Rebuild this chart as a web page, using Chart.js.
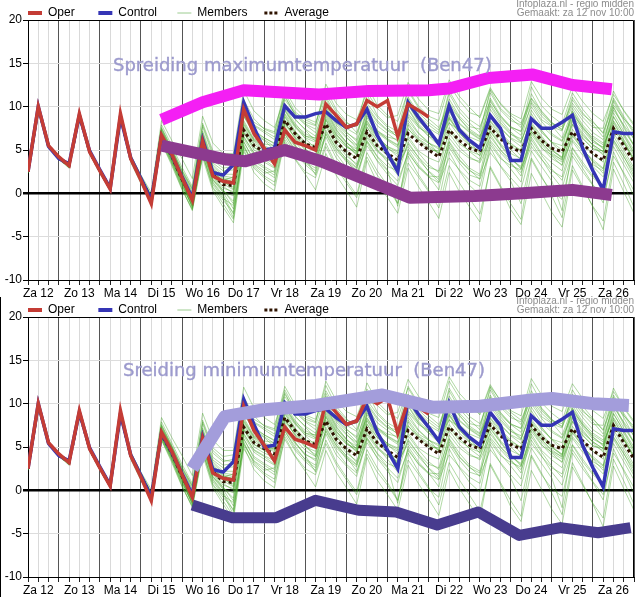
<!DOCTYPE html>
<html><head><meta charset="utf-8">
<script src="https://cdn.jsdelivr.net/npm/chart.js@4/dist/chart.umd.min.js"></script>
<style>
html,body{margin:0;padding:0;background:#fff;}
#wrap{position:relative;width:636px;height:597px;overflow:hidden;background:#fff;}
canvas{position:absolute;left:0;}
#c1{top:0}
#c2{top:297px}
.note{position:absolute;right:2px;font:10px "Liberation Sans",Arial,sans-serif;color:#8c8c8c;line-height:10px;white-space:nowrap}
.spread{position:absolute;font:18px "DejaVu Sans",sans-serif;color:#9c9acd;line-height:18px;white-space:pre;-webkit-text-stroke:0.4px #9c9acd}
#frame{position:absolute;left:0;top:297px;width:1px;height:300px;background:#000}
</style></head>
<body><div id="wrap">
<canvas id="c1" width="636" height="297"></canvas>
<canvas id="c2" width="636" height="300"></canvas>
<div id="frame"></div>
<div class="note" style="top:-1px">Infoplaza.nl - regio midden</div>
<div class="note" style="top:8px">Gemaakt: za 12 nov 10:00</div>
<div class="note" style="top:296px">Infoplaza.nl - regio midden</div>
<div class="note" style="top:305px">Gemaakt: za 12 nov 10:00</div>
<div class="spread" style="left:113px;top:56px">Spreiding maximumtemperatuur  (Ben47)</div>
<div class="spread" style="left:123px;top:361px">Sreiding minimumtemperatuur  (Ben47)</div>
</div>
<script>
// ---- categories / ticks ----
const dayLabels = ['Za 12','Zo 13','Ma 14','Di 15','Wo 16','Do 17','Vr 18','Za 19','Zo 20','Ma 21','Di 22','Wo 23','Do 24','Vr 25','Za 26'];
const hours = [6,12,18,24,30,36,42,48,54,60,66,72,78,84,90,96,102,108,114,120,126,132,138,144,150,156,162,168,174,180,186,192,198,204,210,216,222,228,234,240,246,252,258,264,270,276,282,288,294,300,306,312,318,324,330,336,342,348,354,360];
const yTicks = [-10,-5,0,5,10,15,20];

// ---- series ----
const oper = [2.5,10.0,5.5,4.2, 3.2,9.2,4.8,2.6, 0.5,9.2,4.0,1.5, -1.2,6.7,4.5,1.8, -0.8,6.0,2.0,1.4, 1.2,9.7,6.9,5.2, 3.4,7.3,5.9,5.5, 5.0,10.3,9.0,7.6, 8.0,10.7,10.0,10.7, 6.6,10.3,9.6,8.8];
const control = [2.5,10.0,5.4,4.0, 3.4,9.0,4.9,2.7, 0.6,8.8,4.1,1.7, -0.8,6.6,4.4,1.9, -0.5,6.2,2.4,2.1, 3.3,10.5,7.6,5.0, 5.2,10.1,8.8,8.8, 9.2,9.4,8.4,7.6, 8.0,9.7,6.7,4.6, 2.5,10.5,8.8,7.3, 5.7,10.1,7.3,6.1, 5.2,9.0,7.5,3.8, 3.8,8.6,7.5,7.5, 8.2,9.0,5.2,2.6, 0.4,7.1,6.9,6.9];
const average = [2.5,9.9,5.5,4.1, 3.2,9.0,4.8,2.6, 0.6,8.9,4.0,1.6, -0.6,6.5,4.3,1.6, -0.6,5.8,2.2,1.0, 0.9,7.3,5.5,4.8, 4.2,8.4,6.9,5.7, 5.3,8.0,5.9,4.8, 4.0,7.1,5.5,4.6, 3.8,6.9,5.9,5.0, 4.2,7.3,6.1,5.2, 4.8,7.6,6.3,5.3, 4.8,7.5,6.1,5.2, 4.8,7.1,5.7,4.6, 3.8,7.5,5.5,3.6];

const member01 = [2.4,9.8,5.6,4.3, 3.4,9.5,5.0,2.8, 0.9,8.7,4.2,1.9, -0.3,7.4,5.0,2.5, 0.4,7.2,3.8,2.9, 3.1,9.6,7.9,7.2, 6.5,10.8,9.2,8.0, 7.4,11.2,8.8,7.1, 6.0,9.3,7.2,6.5, 6.2,9.0,7.6,6.9, 6.0,8.1,7.3,6.2, 5.1,9.7,8.0,6.8, 6.3,10.4,8.5,7.7, 7.2,10.8,9.1,8.2, 7.0,10.2,8.6,7.4];
const member02 = [2.6,10.1,5.4,4.0, 3.0,8.8,4.6,2.3, 0.3,8.6,3.6,1.1, -1.0,5.8,3.2,0.4, -1.9,4.6,0.7,-0.8, -2.2,5.1,2.4,1.1, 0.3,6.2,4.0,2.5, 1.8,5.4,3.0,1.2, -0.5,4.2,2.1,0.6, -1.2,3.5,1.9,0.2, -0.8,4.8,2.6,0.9, -0.2,5.3,3.1,1.4, -1.2,4.1,2.0,-0.3, -2.8,3.2,0.8,-1.6, -4.2,2.8,0.2,-2.3];
const member03 = [2.5,9.9,5.7,4.2, 3.3,9.3,4.9,2.7, 0.7,9.0,4.3,1.8, -0.5,6.9,4.6,1.3, -1.2,5.5,2.0,0.6, 0.2,8.4,6.3,5.7, 5.5,9.9,8.1,6.6, 6.1,9.6,7.4,5.9, 4.8,8.7,7.0,6.1, 5.3,10.2,8.3,7.5, 6.8,11.5,9.4,8.1, 7.0,11.9,9.8,8.7, 7.6,10.6,8.9,7.8, 6.4,9.5,7.7,6.2, 5.1,8.8,6.9,5.0];
const member04 = [2.3,9.7,5.3,3.9, 2.9,9.1,4.5,2.4, 0.4,9.1,3.8,1.3, -0.9,6.2,3.9,1.0, -1.5,5.0,1.2,-0.4, -2.8,6.0,3.7,2.9, 2.1,7.3,5.5,4.2, 3.4,6.5,4.1,2.8, 1.6,5.9,3.7,2.2, 0.9,4.8,3.0,1.9, 1.2,4.1,2.7,1.5, 0.8,5.6,4.0,3.2, 2.7,6.8,5.2,4.4, 3.6,6.2,4.8,3.1, 1.9,5.4,3.3,1.2];
const member05 = [2.6,10.0,5.5,4.1, 3.1,9.0,4.8,2.5, 0.5,8.8,4.1,1.7, -0.6,6.6,4.4,1.9, -0.2,6.5,2.9,1.8, 1.6,8.9,6.8,6.1, 5.0,9.2,7.6,6.4, 5.9,10.3,8.2,7.0, 6.2,11.4,9.0,7.8, 7.1,12.0,10.1,8.9, 8.4,12.6,10.7,9.3, 8.9,12.2,10.3,9.0, 8.1,11.0,9.5,8.2, 7.3,10.1,8.4,7.0, 6.2,9.6,7.9,6.3];
const member06 = [2.5,10.2,5.6,4.2, 3.2,9.4,4.9,2.6, 0.6,8.5,3.9,1.5, -0.4,6.0,3.8,1.2, -1.0,4.9,1.5,0.1, -1.8,5.6,3.1,2.0, 1.3,5.9,3.9,2.2, 0.4,4.6,2.1,0.3, -1.6,3.8,1.2,-0.5, -2.3,2.9,0.8,-1.0, -2.9,2.4,0.2,-1.6, -3.3,3.1,0.9,-1.2, -3.0,3.9,1.8,0.2, -0.7,4.3,2.5,0.9, -1.1,4.8,2.2,-0.4];
const member07 = [2.5,9.9,5.4,4.0, 3.3,9.1,4.8,2.7, 0.8,9.2,4.4,2.0, -0.2,7.9,5.5,3.0, 0.8,8.1,4.9,3.9, 4.1,10.8,8.6,7.4, 6.9,11.6,9.4,8.5, 7.9,12.1,9.7,8.3, 7.0,10.4,8.8,7.6, 6.4,9.2,7.8,6.6, 5.5,8.7,7.1,5.9, 4.6,8.0,6.4,5.0, 3.9,7.1,5.6,4.3, 3.2,6.6,5.1,3.7, 2.8,7.7,5.9,4.1];
const member08 = [2.4,10.0,5.5,4.1, 3.1,8.9,4.7,2.5, 0.5,8.9,4.0,1.4, -0.8,6.3,4.0,1.4, -1.7,5.2,1.9,0.3, -0.9,7.0,5.0,4.3, 3.8,8.0,6.4,5.0, 4.5,7.3,5.2,3.6, 2.7,6.4,4.8,3.9, 3.4,8.1,6.5,5.8, 5.1,9.9,8.0,7.0, 6.2,9.1,7.5,6.3, 5.4,8.2,6.6,5.1, 4.1,7.9,6.3,5.2, 4.6,8.9,6.8,4.7];
const member09 = [2.6,9.8,5.5,4.2, 3.2,9.0,4.8,2.6, 0.6,8.9,4.0,1.6, -0.7,5.9,3.4,0.5, -2.0,4.1,0.3,-1.6, -3.4,4.8,2.9,1.8, 0.9,6.9,4.8,3.6, 2.9,8.6,6.7,5.5, 4.4,8.0,6.1,4.9, 3.0,5.7,4.2,2.5, 1.3,5.3,3.5,2.1, 1.7,6.8,5.0,3.9, 3.1,7.9,5.9,4.5, 3.9,8.4,6.6,5.6, 4.8,9.3,7.2,5.6];
const member10 = [2.5,10.0,5.6,4.1, 3.2,9.2,4.8,2.6, 0.6,9.0,4.2,1.8, -0.5,7.1,4.9,2.2, 0.1,6.7,3.3,2.2, 2.2,9.1,7.3,6.4, 5.8,10.2,8.6,7.3, 6.0,9.0,6.9,5.4, 4.6,7.6,6.1,5.2, 4.5,7.4,6.3,5.5, 4.7,8.6,6.9,5.8, 5.3,10.8,8.7,7.6, 7.2,12.3,10.1,8.9, 8.0,11.6,9.7,8.3, 6.9,11.0,8.9,7.1];
const member11 = [2.4,9.9,5.4,4.0, 3.0,9.0,4.7,2.4, 0.4,8.7,3.9,1.5, -0.8,6.4,4.1,1.5, -0.9,5.9,2.3,1.2, 1.1,6.3,4.4,3.6, 2.9,7.0,5.4,4.1, 3.6,8.4,6.5,5.3, 4.9,9.6,7.8,6.9, 6.0,10.3,8.4,7.1, 5.9,8.8,7.0,5.6, 4.3,7.1,5.5,4.0, 2.9,6.2,4.4,2.8, 1.5,5.3,3.6,2.0, 0.9,6.1,4.2,2.4];
const member12 = [2.5,10.0,5.5,4.1, 3.2,9.1,4.8,2.6, 0.6,8.9,4.0,1.6, -0.6,6.5,4.3,1.6, -0.4,6.1,2.6,1.4, 0.5,7.7,5.8,5.1, 4.6,9.1,7.2,5.9, 4.9,7.7,5.5,3.9, 2.2,5.5,3.8,2.6, 1.4,4.6,3.1,2.0, 1.9,6.4,4.9,4.0, 3.7,8.3,6.6,5.6, 5.0,8.7,7.0,5.9, 5.5,9.2,7.6,6.4, 5.6,8.1,6.2,4.4];
const member13 = [2.6,10.1,5.6,4.2, 3.3,9.2,4.9,2.7, 0.7,9.1,4.2,1.8, -0.4,7.6,5.2,2.7, 0.6,7.7,4.3,3.3, 3.6,10.2,8.2,7.5, 7.1,12.0,9.9,8.7, 8.2,11.5,9.4,8.1, 7.7,12.4,10.2,9.0, 8.3,11.8,9.9,8.6, 7.6,10.5,8.7,7.2, 6.5,11.0,9.0,7.7, 7.1,10.0,8.3,6.9, 6.1,9.0,7.3,5.9, 5.3,8.4,6.6,4.6];
const member14 = [2.4,9.8,5.4,4.0, 3.1,8.9,4.6,2.4, 0.4,8.8,3.9,1.4, -0.9,6.1,3.7,0.9, -1.4,5.4,1.6,0.2, -0.3,7.9,6.0,5.2, 4.4,8.8,7.0,5.5, 5.0,8.5,6.4,4.6, 3.2,6.9,5.0,3.6, 2.1,5.9,4.2,3.0, 2.6,7.3,5.7,4.9, 4.4,7.2,5.6,4.2, 2.8,5.8,4.0,2.1, 0.6,4.7,2.9,1.0, -0.5,4.3,2.4,0.3];
const member15 = [2.5,10.0,5.5,4.1, 3.2,9.0,4.8,2.6, 0.6,8.9,4.0,1.6, -0.3,7.3,4.8,2.0, -0.8,6.3,2.5,1.5, 1.9,7.0,5.3,4.6, 4.0,8.1,6.5,5.4, 5.7,9.7,7.6,6.4, 5.5,8.4,6.6,5.3, 4.2,7.5,6.0,5.0, 4.9,9.4,7.6,6.5, 6.0,10.1,8.2,6.9, 5.9,9.2,7.3,5.8, 4.6,8.0,6.4,5.1, 4.9,9.9,7.6,5.4];
const member16 = [2.5,9.9,5.5,4.1, 3.2,9.0,4.8,2.6, 0.6,8.8,4.0,1.6, -0.5,6.8,4.5,1.7, -0.5,6.4,2.7,1.6, 1.4,7.5,5.6,4.9, 4.8,8.5,6.8,5.2, 3.9,6.8,4.6,3.0, 2.0,6.1,4.3,3.1, 2.6,6.6,4.9,4.1, 3.6,6.9,5.3,4.2, 3.5,6.1,4.7,3.4, 2.4,5.4,3.9,2.6, 1.9,6.0,4.4,3.3, 2.6,7.0,5.0,2.9];
const member17 = [2.5,10.0,5.5,4.1, 3.1,9.1,4.7,2.5, 0.5,8.9,3.9,1.5, -0.7,6.2,3.6,0.6, -1.8,4.4,0.6,-1.2, -3.0,5.3,3.3,2.3, 2.6,7.8,5.6,4.0, 2.1,5.8,3.3,1.5, -0.2,4.7,2.6,0.9, -1.1,4.3,2.2,0.4, -1.7,3.2,1.2,-0.6, -2.4,2.9,0.7,-1.9, -3.6,2.3,0.1,-2.2, -3.9,2.7,0.6,-1.5, -3.2,3.6,1.1,-1.6];
const member18 = [2.5,10.0,5.6,4.2, 3.3,9.3,5.0,2.8, 0.8,9.1,4.4,2.1, 0.1,8.4,6.1,4.0, 1.7,8.9,5.8,4.6, 4.6,11.9,9.5,8.4, 7.6,11.1,9.2,8.2, 7.8,12.6,10.4,9.1, 8.5,11.7,9.8,8.7, 9.0,12.8,10.9,9.6, 9.2,13.1,11.2,9.9, 8.7,12.0,10.4,9.2, 8.6,12.9,11.0,9.7, 9.1,12.3,10.6,9.2, 8.3,11.4,9.6,8.0];
const member19 = [2.5,10.0,5.5,4.2, 3.2,9.1,4.9,2.7, 0.6,9.0,4.1,1.7, -0.4,7.0,4.7,1.9, -0.6,6.0,2.4,1.3, 0.7,8.9,7.0,6.2, 5.4,9.6,7.8,6.3, 5.2,8.1,6.2,4.9, 4.1,8.9,7.1,6.3, 5.6,9.8,8.0,6.9, 5.8,9.0,7.4,6.1, 5.0,8.4,6.9,5.6, 4.3,8.0,6.4,5.0, 4.0,9.4,7.5,6.1, 5.3,10.6,8.4,6.2];
const member20 = [2.4,9.9,5.5,4.1, 3.1,9.0,4.8,2.6, 0.5,8.8,4.0,1.5, -0.7,6.3,4.1,1.3, -1.3,5.3,1.6,0.4, -1.2,6.6,4.6,3.9, 3.0,7.6,5.9,4.6, 3.9,9.2,7.1,5.8, 5.1,8.3,6.5,5.4, 4.7,8.8,7.0,5.9, 4.5,7.6,6.0,4.8, 3.9,6.5,5.0,3.6, 2.0,7.1,5.3,4.0, 3.3,7.4,5.8,4.5, 3.6,8.3,6.1,3.8];
const member21 = [2.6,10.0,5.6,4.2, 3.3,9.3,4.9,2.8, 0.7,9.0,4.2,1.9, -0.3,7.2,5.0,2.4, 0.2,7.0,3.5,2.6, 2.7,8.0,6.2,5.5, 4.9,9.5,7.7,6.6, 6.4,10.9,8.6,7.5, 6.8,10.1,8.4,7.3, 6.9,11.1,9.3,8.2, 7.3,10.2,8.6,7.4, 6.6,9.0,7.6,6.4, 5.8,9.6,7.8,6.7, 6.0,8.6,7.0,5.5, 4.4,7.3,5.8,3.9];
const member22 = [2.5,9.8,5.4,4.0, 3.0,8.9,4.7,2.5, 0.5,8.9,3.9,1.5, -0.8,6.0,3.8,1.1, -1.6,4.8,1.3,-0.2, -2.4,5.9,3.9,3.1, 2.4,6.8,5.1,3.5, 2.6,6.9,4.9,3.8, 2.9,7.7,5.6,4.4, 3.6,6.3,4.7,3.3, 2.4,6.0,4.3,2.9, 2.2,7.6,5.7,4.6, 4.0,7.3,5.8,4.7, 3.8,7.0,5.2,3.6, 2.3,6.2,4.3,2.0];
const member23 = [2.5,10.1,5.6,4.1, 3.2,9.2,4.8,2.6, 0.6,9.0,4.1,1.6, -0.5,6.6,4.4,1.8, -0.1,6.9,3.1,2.0, 1.8,9.9,7.8,7.0, 6.2,11.3,9.0,7.9, 7.0,10.0,8.1,6.8, 5.6,9.9,8.2,7.2, 6.6,10.9,9.0,7.9, 7.0,11.8,9.8,8.5, 7.7,10.6,8.9,7.6, 6.7,11.5,9.4,8.1, 7.4,11.1,9.3,7.9, 6.5,10.8,8.7,6.9];
const member24 = [2.4,9.9,5.5,4.0, 3.1,9.1,4.7,2.5, 0.5,8.7,3.9,1.4, -0.9,5.8,3.5,0.8, -1.4,4.4,1.0,-0.6, -1.4,5.4,3.4,2.6, 1.8,6.5,4.6,3.3, 2.3,7.1,5.2,4.0, 3.0,6.0,4.2,2.7, -1.5,5.1,3.3,2.0, 0.4,5.9,3.9,2.7, 1.6,4.7,3.2,1.8, 0.5,4.9,3.1,1.4, -2.0,5.2,3.3,1.8, 0.8,5.9,3.8,1.7];
const member25 = [2.5,10.0,5.5,4.1, 3.2,9.0,4.8,2.6, 0.6,8.9,4.0,1.7, -0.6,6.7,4.5,1.8, -0.7,6.0,2.4,1.1, 0.4,7.2,5.3,4.6, 3.9,8.9,7.1,5.8, 4.8,7.9,5.8,4.3, 3.4,6.6,5.0,4.0, 3.1,7.9,6.2,5.3, 4.6,8.2,6.6,5.5, 4.9,8.8,7.0,5.8, 4.9,7.7,6.2,4.9, 4.2,8.5,6.8,5.6, 4.8,7.8,5.9,3.7];
const member26 = [2.6,10.0,5.5,4.2, 3.3,9.2,4.9,2.7, 0.7,9.0,4.2,1.8, -0.4,7.5,5.1,2.6, 0.5,7.9,4.6,3.5, 3.3,9.0,7.1,6.4, 5.7,10.4,8.5,7.4, 6.6,9.4,7.3,5.9, 4.7,8.1,6.4,5.4, 4.9,9.7,7.8,6.6, 6.1,10.9,8.9,7.7, 7.4,11.6,9.6,8.4, 7.9,10.9,9.2,8.0, 7.7,10.4,8.8,7.6, 7.5,11.8,9.5,7.8];
const member27 = [2.5,9.9,5.5,4.1, 3.2,9.0,4.8,2.6, 0.6,8.8,4.0,1.5, -0.7,6.2,4.0,1.3, -1.1,5.6,2.0,0.8, 0.0,6.5,4.7,4.0, 3.4,8.3,6.3,5.0, 4.1,8.8,6.8,5.6, 4.5,7.1,5.5,4.3, 3.2,5.4,3.9,2.6, 1.6,5.6,3.8,2.6, 2.0,5.9,4.2,2.8, 1.3,6.5,4.6,3.5, 2.6,6.8,5.0,3.9, 2.9,6.6,4.6,2.6];
const member28 = [2.5,10.0,5.6,4.1, 3.2,9.1,4.8,2.6, 0.6,9.0,4.1,1.7, -0.5,6.9,4.6,2.0, -0.3,6.2,2.8,1.7, 1.3,8.2,6.1,5.4, 4.7,9.7,7.9,6.9, 6.3,9.9,7.9,6.5, 5.2,9.0,7.3,6.2, 5.5,8.4,6.9,5.8, 5.3,10.0,8.1,7.1, 6.3,10.3,8.5,7.1, 6.0,8.8,7.2,5.9, 5.0,9.8,7.9,6.6, 5.8,10.0,7.8,5.5];
const members = [member01,member02,member03,member04,member05,member06,member07,member08,member09,member10,member11,member12,member13,member14,member15,member16,member17,member18,member19,member20,member21,member22,member23,member24,member25,member26,member27,member28];

// ---- hand-drawn spread lines (Ben47) ----
const maxUpperHours = [84,108,132,176,205,240,252,275,301,324,347];
const maxUpperValues = [8.5,10.5,11.9,11.4,11.8,11.9,12.1,13.3,13.7,12.5,12.0];
const maxLowerHours = [84,108,122,133,156,176,229,267,295,324,347];
const maxLowerValues = [5.5,4.5,3.9,3.7,5.0,3.8,-0.5,-0.3,0.0,0.4,-0.2];
const minUpperHours = [102,121,144,174,213,242,270,299,312,336,357];
const minUpperValues = [2.5,8.5,9.3,9.8,11.0,9.6,9.7,10.4,10.6,10.0,9.8];
const minLowerHours = [102,125,151,174,199,221,245,269,293,317,339,358];
const minLowerValues = [-1.7,-3.15,-3.15,-1.15,-2.3,-2.5,-4.0,-2.5,-5.2,-4.3,-4.9,-4.3];

const FONT = '"Liberation Sans", Arial, sans-serif';
Chart.defaults.font.family = FONT;
Chart.defaults.font.size = 12;
Chart.defaults.color = '#000';

const COL = { oper:'#c43c35', control:'#3535b5', avg:'#2e1300', member:'rgba(70,165,40,0.42)' };

function pts(xs, ys){ return ys.map((v,i)=>({x:xs[i], y:v})); }

const boxBorder = {
  id:'boxBorder',
  afterLayout(chart){ if (chart.legend) chart.legend.left = 21; },
  afterDatasetsDraw(chart){
    const {ctx, chartArea:a} = chart;
    ctx.save(); ctx.strokeStyle='#000'; ctx.lineWidth=1;
    ctx.beginPath();
    ctx.moveTo(a.left, a.top+0.5); ctx.lineTo(a.right-0.5, a.top+0.5); ctx.lineTo(a.right-0.5, a.bottom);
    ctx.stroke(); ctx.restore();
  }
};

function legendItems(){
  return [
    {text:'Oper     ', strokeStyle:COL.oper, fillStyle:COL.oper, lineWidth:4, lineDash:[], pointStyle:'line', hidden:false, fontColor:'#000', datasetIndex:0},
    {text:'Control    ', strokeStyle:COL.control, fillStyle:COL.control, lineWidth:4, lineDash:[], pointStyle:'line', hidden:false, fontColor:'#000', datasetIndex:1},
    {text:'Members   ', strokeStyle:'rgba(90,170,70,0.6)', fillStyle:'rgba(90,170,70,0.6)', lineWidth:1, lineDash:[], pointStyle:'line', hidden:false, fontColor:'#000', datasetIndex:3},
    {text:'Average', strokeStyle:COL.avg, fillStyle:COL.avg, lineWidth:3, lineDash:[3,2], pointStyle:'line', hidden:false, fontColor:'#000', datasetIndex:2}
  ];
}

function makeChart(id, xHeight, overlays){
  const ds = [];
  ds.push({label:'Oper', data:pts(hours, oper), borderColor:COL.oper, borderWidth:3.5, order:1});
  ds.push({label:'Control', data:pts(hours, control), borderColor:COL.control, borderWidth:3.5, order:2});
  ds.push({label:'Average', data:pts(hours, average), borderColor:COL.avg, borderWidth:3, borderDash:[3,3], order:3});
  members.forEach((m,i)=>ds.push({label: i===0?'Members':'', data:pts(hours, m), borderColor:COL.member, borderWidth:1, order:4}));
  overlays.forEach(o=>ds.push({label:'', data:pts(o.h, o.v), borderColor:o.c, borderWidth:o.w, borderCapStyle:'butt', borderJoinStyle:'round', order:0}));
  return new Chart(document.getElementById(id), {
    type:'line',
    data:{datasets:ds},
    plugins:[boxBorder],
    options:{
      responsive:false, animation:false, devicePixelRatio:1, events:[],
      layout:{padding:{left:0,right:2,top:0,bottom:0}},
      elements:{point:{radius:0}, line:{tension:0, fill:false}},
      plugins:{
        tooltip:{enabled:false},
        legend:{position:'top', align:'start', maxHeight:20,
          labels:{padding:7, boxWidth:14, boxHeight:12, usePointStyle:true, pointStyleWidth:14, font:{size:12, family:FONT}, color:'#000', generateLabels:legendItems}}
      },
      scales:{
        x:{type:'linear', min:6, max:360,
          afterFit(s){ s.height = xHeight; },
          ticks:{stepSize:6, autoSkip:false, maxRotation:0, minRotation:0, padding:1, color:'#000', font:{size:12},
            callback:(v)=>{ const r=Math.round(v); return r%24===12 ? dayLabels[(r-12)/24] : ''; }},
          grid:{color:(c)=> (Math.round(c.tick.value)%24===0 ? '#555' : '#d9d9d9'), lineWidth:1, tickLength:5, tickColor:'#222'},
          border:{color:'#000', width:1}
        },
        y:{min:-10, max:20,
          afterFit(s){ s.width = 28; },
          afterBuildTicks(s){ s.ticks = yTicks.map(v=>({value:v})); },
          ticks:{stepSize:5, padding:1, color:'#000', font:{size:12}},
          grid:{color:(c)=> (c.tick.value===0 ? '#000' : '#dcdcdc'), lineWidth:(c)=> (c.tick.value===0 ? 2.5 : 1), tickLength:5, tickColor:'#000'},
          border:{color:'#000', width:1}
        }
      }
    }
  });
}

makeChart('c1', 17, [
  {h:maxUpperHours, v:maxUpperValues, c:'#f41ff4', w:12},
  {h:maxLowerHours, v:maxLowerValues, c:'#8c3a8f', w:12}
]);
makeChart('c2', 20, [
  {h:minUpperHours, v:minUpperValues, c:'#a39ddb', w:13},
  {h:minLowerHours, v:minLowerValues, c:'#483c8e', w:11}
]);
</script>
</body></html>
